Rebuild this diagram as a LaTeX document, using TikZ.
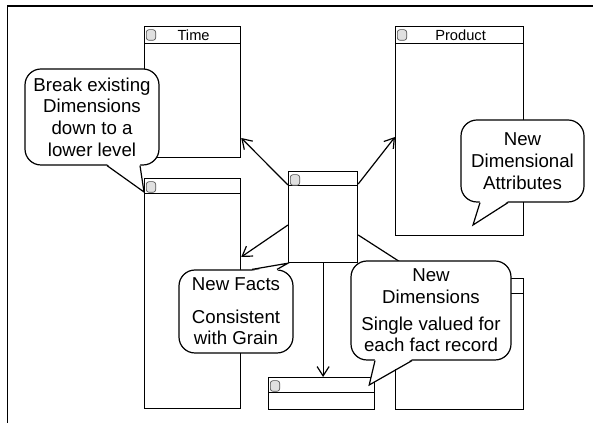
\documentclass[tikz,border=0pt]{standalone}
\usepackage{fontspec}
\setmainfont{Liberation Sans}
\usetikzlibrary{arrows.meta}
\tikzset{
  tbl/.style={draw, line width=0.9pt, anchor=north west, inner sep=0pt},
  icon/.style={draw=black!70, fill=black!12, line width=0.5pt, rounded corners=2pt,
    inner sep=0pt, minimum width=7pt, minimum height=8pt},
  hdr/.style={inner sep=0pt, font=\fontsize{11}{13}\selectfont},
  callout/.style={draw, fill=white, line width=0.9pt, rounded corners=12pt, align=center,
    inner sep=0pt, font=\fontsize{14}{16.3}\selectfont},
}
\begin{document}
\begin{tikzpicture}[x=0.75pt, y=-0.75pt, line width=0.9pt,
    >={Straight Barb[length=7pt,width=9pt]}]
    \useasboundingbox (0,0) rectangle (593,423);
    % Frame
    \draw (7.5,423) -- (7.5,6) -- (593,6);
    % Tables
    \node[tbl, minimum width=72pt, minimum height=98.25pt] (time) at (144,26) {};
    \node[tbl, minimum width=72pt, minimum height=172.5pt] (split) at (144,178) {};
    \node[tbl, minimum width=51.75pt, minimum height=68.25pt] (fact) at (288,171) {};
    \node[tbl, minimum width=96pt, minimum height=156.75pt] (product) at (395,26) {};
    \node[tbl, minimum width=96pt, minimum height=98.25pt] (newdim) at (395,278) {};
    \node[tbl, minimum width=79.5pt, minimum height=24pt] (newfact) at (268,377) {};
    \foreach \t/\h in {time/17, split/15, fact/14, product/17, newdim/15, newfact/15} {
        \draw[line width=0.7pt] ([shift={(0,\h)}]\t.north west) -- ([shift={(0,\h)}]\t.north east);
        \node[icon] at ([shift={(7,9)}]\t.north west) {};
    }
    \node[hdr] at ([shift={(1,9)}]time.north) {Time};
    \node[hdr] at ([shift={(1,9)}]product.north) {Product};
    % Links from the fact table
    \draw[->] ([shift={(0,14)}]fact.north west) -- ([shift={(0,112)}]time.north east);
    \draw[->] ([shift={(0,13)}]fact.north east) -- ([shift={(0,111)}]product.north west);
    \draw[->] ([shift={(0,54)}]fact.north west) -- ([shift={(0,79)}]split.north east);
    \draw[->] ([shift={(0,64)}]fact.north east) -- ([shift={(30,0)}]newdim.north west);
    \draw[->] (fact.south) -- (fact.south |- newfact.north);
    % Callouts
    \node[callout, minimum width=100.5pt, minimum height=72pt] (brk) at (92,117)
        {Break existing\\Dimensions\\down to a\\lower level};
    \node[callout, minimum width=92.25pt, minimum height=61.5pt] (attr) at (522.5,161)
        {New\\Dimensional\\Attributes};
    \node[callout, minimum width=85.5pt, minimum height=62.25pt] (facts) at (236,311.5)
        {New Facts\\[8pt]Consistent\\with Grain};
    \node[callout, minimum width=120pt, minimum height=74.25pt] (dims) at (431,310.5)
        {New\\Dimensions\\[3.5pt]Single valued for\\each fact record};
    % Tails
    \coordinate (brktip) at ([shift={(0,14)}]split.north west);
    \coordinate (attrtip) at (473,225);
    \coordinate (dimstip) at ([shift={(-6,8)}]newfact.north east);
    \fill[white] ([shift={(15,-1.5)}]brk.south) -- (brktip) -- ([shift={(48,-1.5)}]brk.south) -- cycle;
    \draw ([shift={(15,0)}]brk.south) -- (brktip) -- ([shift={(48,0)}]brk.south);
    \fill[white] ([shift={(-42.5,-1.5)}]attr.south) -- (attrtip) -- ([shift={(-14.5,-1.5)}]attr.south) -- cycle;
    \draw ([shift={(-42.5,0)}]attr.south) -- (attrtip) -- ([shift={(-14.5,0)}]attr.south);
    \fill[white] ([shift={(16,1.5)}]facts.north) -- (fact.south west) -- ([shift={(41,1.5)}]facts.north) -- cycle;
    \draw ([shift={(16,0)}]facts.north) -- (fact.south west) -- ([shift={(41,0)}]facts.north);
    \fill[white] ([shift={(-56,-1.5)}]dims.south) -- (dimstip) -- ([shift={(-19,-1.5)}]dims.south) -- cycle;
    \draw ([shift={(-56,0)}]dims.south) -- (dimstip) -- ([shift={(-19,0)}]dims.south);
\end{tikzpicture}
\end{document}
